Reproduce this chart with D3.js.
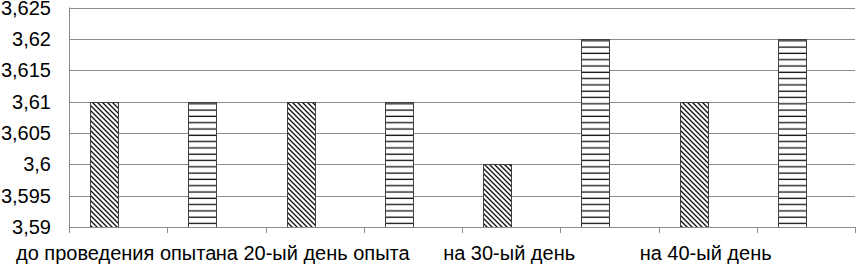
<!DOCTYPE html>
<html>
<head>
<meta charset="utf-8">
<script src="https://cdn.jsdelivr.net/npm/d3@7"></script>
<style>
  body { margin: 0; background: #fff; }
  text { font-family: Arial, "Liberation Sans", sans-serif; fill: #000; }
</style>
</head>
<body>
<svg id="chart" width="856" height="264"></svg>
<script>
"use strict";

// данные графика
const categories = ["k1", "k2", "k3", "k4", "k5", "k6", "k7", "k8"];
const categoryLabels = ["до проведения опыта", "", "на 20-ый день опыта", "", "на 30-ый день", "", "на 40-ый день", ""];
const values = [3.61, 3.61, 3.61, 3.61, 3.60, 3.62, 3.61, 3.62];
const patterns = ["diag", "horiz", "diag", "horiz", "diag", "horiz", "diag", "horiz"];
const yTicks = [3.59, 3.595, 3.6, 3.605, 3.61, 3.615, 3.62, 3.625];

const plotLeft = 69, plotRight = 855, plotTop = 7.5, plotBottom = 227;

const svg = d3.select("#chart");

// штриховки
const defs = svg.append("defs");
const pd = defs.append("pattern")
  .attr("id", "diag")
  .attr("patternUnits", "userSpaceOnUse")
  .attr("width", 5)
  .attr("height", 5);
pd.append("rect").attr("width", 5).attr("height", 5).style("fill", "#fff");
pd.append("path")
  .attr("d", "M-1,-1 L6,6 M-1,4 L1,6 M4,-1 L6,1")
  .style("stroke", "#111")
  .style("stroke-width", 1.3);

const ph = defs.append("pattern")
  .attr("id", "horiz")
  .attr("patternUnits", "userSpaceOnUse")
  .attr("width", 6)
  .attr("height", 6.3);
ph.append("rect").attr("width", 6).attr("height", 6.3).style("fill", "#fff");
ph.append("line")
  .attr("x1", 0).attr("x2", 6)
  .attr("y1", 3).attr("y2", 3)
  .style("stroke", "#111")
  .style("stroke-width", 1.3);

const x = d3.scaleBand().domain(categories).range([plotLeft, plotRight]).padding(0);
const barW = 28;
const inner = d3.scaleBand().domain(["bar", "gap"])
  .range([x.bandwidth() / 2 - barW, x.bandwidth() / 2 + barW]);
const y = d3.scaleLinear().domain([3.59, 3.625]).range([plotBottom, plotTop]);

// сетка
svg.append("g")
  .selectAll("line")
  .data(yTicks.slice(1))
  .join("line")
  .attr("x1", plotLeft).attr("x2", plotRight)
  .attr("y1", d => Math.round(y(d)) + 0.5)
  .attr("y2", d => Math.round(y(d)) + 0.5)
  .style("stroke", "#8c8c8c")
  .style("stroke-width", 1);

// подписи оси Y
svg.append("g")
  .selectAll("text")
  .data(yTicks)
  .join("text")
  .attr("x", 51)
  .attr("y", d => y(d))
  .attr("dy", "0.35em")
  .attr("text-anchor", "end")
  .style("font-size", "20px")
  .text(d => d3.format(".3~f")(d).replace(".", ","));

// столбцы
svg.append("g")
  .selectAll("rect")
  .data(categories)
  .join("rect")
  .attr("x", (d, i) => Math.round(x(d) + inner("bar")) + 0.5)
  .attr("width", inner.bandwidth())
  .attr("y", (d, i) => Math.round(y(values[i])) + 0.5)
  .attr("height", (d, i) => Math.round(y(3.59)) - Math.round(y(values[i])))
  .style("fill", (d, i) => "url(#" + patterns[i] + ")")
  .style("stroke", "#404040")
  .style("stroke-width", 1);

// оси
svg.append("line")
  .attr("x1", plotLeft + 0.5).attr("x2", plotLeft + 0.5)
  .attr("y1", plotTop).attr("y2", plotBottom + 0.5)
  .style("stroke", "#8c8c8c");
svg.append("line")
  .attr("x1", plotLeft).attr("x2", plotRight)
  .attr("y1", plotBottom + 0.5).attr("y2", plotBottom + 0.5)
  .style("stroke", "#8c8c8c");

// засечки по оси X (границы категорий)
const bounds = categories.map(c => x(c)).concat([plotRight]);
svg.append("g")
  .selectAll("line")
  .data(bounds)
  .join("line")
  .attr("x1", d => Math.round(d) + 0.5).attr("x2", d => Math.round(d) + 0.5)
  .attr("y1", plotBottom).attr("y2", plotBottom + 6)
  .style("stroke", "#8c8c8c");

// подписи категорий
svg.append("g")
  .selectAll("text")
  .data(categories)
  .join("text")
  .attr("x", d => x(d) + x.bandwidth() / 2 - 2)
  .attr("y", 260)
  .attr("text-anchor", "middle")
  .style("font-size", "20px")
  .text((d, i) => categoryLabels[i]);
</script>
</body>
</html>
